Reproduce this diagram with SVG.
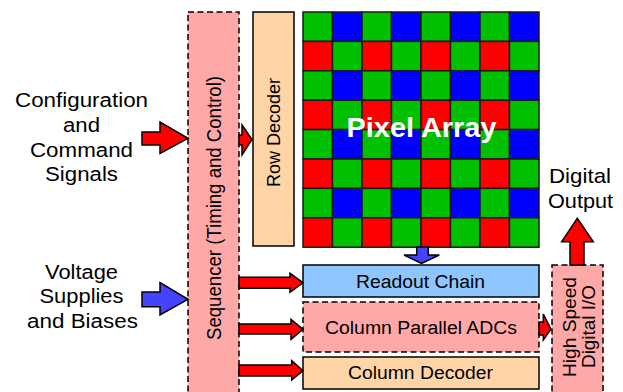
<svg xmlns="http://www.w3.org/2000/svg" width="623" height="392" viewBox="0 0 623 392">
  <defs>
    <style>
      text { font-family: "Liberation Sans", Arial, sans-serif; fill: #000; }
      .lbl { font-size: 20px; text-anchor: middle; }
      .box { font-size: 18px; text-anchor: middle; }
      .solid { stroke: #000; stroke-width: 1.5; }
      .dashed { stroke: #000; stroke-width: 1.5; stroke-dasharray: 6 3.5; }
      .pink { fill: #ffa8a8; }
      .peach { fill: #ffd5a8; }
      .sky { fill: #8fc6ff; }
      .arr-red { fill: #ff0000; stroke: #000; stroke-width: 1.5; stroke-linejoin: miter; }
      .arr-blue { fill: #4444ff; stroke: #000; stroke-width: 1.5; stroke-linejoin: miter; }
      .cell { stroke: #1a1a1a; stroke-width: 1.5; }
      .g { fill: #00c000; }
      .b { fill: #0000ff; }
      .r { fill: #ff0000; }
    </style>
  </defs>

  <!-- input labels -->
  <g id="config-label">
    <text class="lbl" x="81.5" y="107" textLength="133" lengthAdjust="spacingAndGlyphs">Configuration</text>
    <text class="lbl" x="81.5" y="132" textLength="37" lengthAdjust="spacingAndGlyphs">and</text>
    <text class="lbl" x="81.5" y="157" textLength="103" lengthAdjust="spacingAndGlyphs">Command</text>
    <text class="lbl" x="81.5" y="181" textLength="73" lengthAdjust="spacingAndGlyphs">Signals</text>
  </g>
  <g id="supply-label">
    <text class="lbl" x="81.5" y="279" textLength="73" lengthAdjust="spacingAndGlyphs">Voltage</text>
    <text class="lbl" x="81.5" y="303" textLength="84" lengthAdjust="spacingAndGlyphs">Supplies</text>
    <text class="lbl" x="82.5" y="328" textLength="111" lengthAdjust="spacingAndGlyphs">and Biases</text>
  </g>

  <!-- sequencer -->
  <g id="sequencer">
    <rect class="pink dashed" x="188" y="12" width="51" height="400"/>
    <text transform="translate(221,208) rotate(-90)" style="font-size:20px;text-anchor:middle" textLength="264" lengthAdjust="spacingAndGlyphs">Sequencer (Timing and Control)</text>
  </g>

  <!-- row decoder -->
  <g id="row-decoder">
    <rect class="peach solid" x="253" y="12" width="41" height="234"/>
    <text transform="translate(280,132.5) rotate(-90)" style="font-size:19px;text-anchor:middle" textLength="109" lengthAdjust="spacingAndGlyphs">Row Decoder</text>
  </g>

  <!-- pixel array: 8x8 Bayer mosaic -->
  <g id="pixel-array">
    <g class="cell">
      <rect class="g" x="303" y="12" width="29.5" height="29.4"/>
      <rect class="b" x="332.5" y="12" width="29.5" height="29.4"/>
      <rect class="g" x="362" y="12" width="29.5" height="29.4"/>
      <rect class="b" x="391.5" y="12" width="29.5" height="29.4"/>
      <rect class="g" x="421" y="12" width="29.5" height="29.4"/>
      <rect class="b" x="450.5" y="12" width="29.5" height="29.4"/>
      <rect class="g" x="480" y="12" width="29.5" height="29.4"/>
      <rect class="b" x="509.5" y="12" width="29.5" height="29.4"/>

      <rect class="r" x="303" y="41.4" width="29.5" height="29.4"/>
      <rect class="g" x="332.5" y="41.4" width="29.5" height="29.4"/>
      <rect class="r" x="362" y="41.4" width="29.5" height="29.4"/>
      <rect class="g" x="391.5" y="41.4" width="29.5" height="29.4"/>
      <rect class="r" x="421" y="41.4" width="29.5" height="29.4"/>
      <rect class="g" x="450.5" y="41.4" width="29.5" height="29.4"/>
      <rect class="r" x="480" y="41.4" width="29.5" height="29.4"/>
      <rect class="g" x="509.5" y="41.4" width="29.5" height="29.4"/>

      <rect class="g" x="303" y="70.8" width="29.5" height="29.4"/>
      <rect class="b" x="332.5" y="70.8" width="29.5" height="29.4"/>
      <rect class="g" x="362" y="70.8" width="29.5" height="29.4"/>
      <rect class="b" x="391.5" y="70.8" width="29.5" height="29.4"/>
      <rect class="g" x="421" y="70.8" width="29.5" height="29.4"/>
      <rect class="b" x="450.5" y="70.8" width="29.5" height="29.4"/>
      <rect class="g" x="480" y="70.8" width="29.5" height="29.4"/>
      <rect class="b" x="509.5" y="70.8" width="29.5" height="29.4"/>

      <rect class="r" x="303" y="100.2" width="29.5" height="29.4"/>
      <rect class="g" x="332.5" y="100.2" width="29.5" height="29.4"/>
      <rect class="r" x="362" y="100.2" width="29.5" height="29.4"/>
      <rect class="g" x="391.5" y="100.2" width="29.5" height="29.4"/>
      <rect class="r" x="421" y="100.2" width="29.5" height="29.4"/>
      <rect class="g" x="450.5" y="100.2" width="29.5" height="29.4"/>
      <rect class="r" x="480" y="100.2" width="29.5" height="29.4"/>
      <rect class="g" x="509.5" y="100.2" width="29.5" height="29.4"/>

      <rect class="g" x="303" y="129.6" width="29.5" height="29.4"/>
      <rect class="b" x="332.5" y="129.6" width="29.5" height="29.4"/>
      <rect class="g" x="362" y="129.6" width="29.5" height="29.4"/>
      <rect class="b" x="391.5" y="129.6" width="29.5" height="29.4"/>
      <rect class="g" x="421" y="129.6" width="29.5" height="29.4"/>
      <rect class="b" x="450.5" y="129.6" width="29.5" height="29.4"/>
      <rect class="g" x="480" y="129.6" width="29.5" height="29.4"/>
      <rect class="b" x="509.5" y="129.6" width="29.5" height="29.4"/>

      <rect class="r" x="303" y="159" width="29.5" height="29.4"/>
      <rect class="g" x="332.5" y="159" width="29.5" height="29.4"/>
      <rect class="r" x="362" y="159" width="29.5" height="29.4"/>
      <rect class="g" x="391.5" y="159" width="29.5" height="29.4"/>
      <rect class="r" x="421" y="159" width="29.5" height="29.4"/>
      <rect class="g" x="450.5" y="159" width="29.5" height="29.4"/>
      <rect class="r" x="480" y="159" width="29.5" height="29.4"/>
      <rect class="g" x="509.5" y="159" width="29.5" height="29.4"/>

      <rect class="g" x="303" y="188.4" width="29.5" height="29.4"/>
      <rect class="b" x="332.5" y="188.4" width="29.5" height="29.4"/>
      <rect class="g" x="362" y="188.4" width="29.5" height="29.4"/>
      <rect class="b" x="391.5" y="188.4" width="29.5" height="29.4"/>
      <rect class="g" x="421" y="188.4" width="29.5" height="29.4"/>
      <rect class="b" x="450.5" y="188.4" width="29.5" height="29.4"/>
      <rect class="g" x="480" y="188.4" width="29.5" height="29.4"/>
      <rect class="b" x="509.5" y="188.4" width="29.5" height="29.4"/>

      <rect class="r" x="303" y="217.8" width="29.5" height="29.4"/>
      <rect class="g" x="332.5" y="217.8" width="29.5" height="29.4"/>
      <rect class="r" x="362" y="217.8" width="29.5" height="29.4"/>
      <rect class="g" x="391.5" y="217.8" width="29.5" height="29.4"/>
      <rect class="r" x="421" y="217.8" width="29.5" height="29.4"/>
      <rect class="g" x="450.5" y="217.8" width="29.5" height="29.4"/>
      <rect class="r" x="480" y="217.8" width="29.5" height="29.4"/>
      <rect class="g" x="509.5" y="217.8" width="29.5" height="29.4"/>
    </g>
    <text x="421.5" y="137" style="font-size:28px;font-weight:bold;fill:#fff;text-anchor:middle" textLength="150" lengthAdjust="spacingAndGlyphs">Pixel Array</text>
  </g>

  <!-- column blocks -->
  <g id="readout-chain">
    <rect class="sky solid" x="303" y="265" width="236" height="32"/>
    <text class="box" x="420.5" y="288" textLength="129" lengthAdjust="spacingAndGlyphs">Readout Chain</text>
  </g>
  <g id="column-adcs">
    <rect class="pink dashed" x="303" y="302" width="236" height="50"/>
    <text class="box" x="421" y="334" textLength="192" lengthAdjust="spacingAndGlyphs">Column Parallel ADCs</text>
  </g>
  <g id="column-decoder">
    <rect class="peach solid" x="303" y="357" width="236" height="32"/>
    <text class="box" x="420.5" y="379" textLength="145" lengthAdjust="spacingAndGlyphs">Column Decoder</text>
  </g>

  <!-- output I/O -->
  <g id="digital-io">
    <rect class="pink dashed" x="552" y="265" width="51" height="150"/>
    <text transform="translate(576,327) rotate(-90)" style="font-size:19px;text-anchor:middle" textLength="100" lengthAdjust="spacingAndGlyphs">High Speed</text>
    <text transform="translate(595,326.5) rotate(-90)" style="font-size:19px;text-anchor:middle" textLength="83" lengthAdjust="spacingAndGlyphs">Digital I/O</text>
  </g>
  <g id="output-label">
    <text x="580" y="183" style="font-size:21px;text-anchor:middle" textLength="62" lengthAdjust="spacingAndGlyphs">Digital</text>
    <text x="580.5" y="208" style="font-size:21px;text-anchor:middle" textLength="65" lengthAdjust="spacingAndGlyphs">Output</text>
  </g>

  <!-- connectors -->
  <g id="connectors">
    <polygon class="arr-red" points="142,132 160,132 160,122 188,138.3 160,153.5 160,145 142,145"/>
    <polygon class="arr-blue" points="142,292 160,292 160,282.5 188,299.3 160,315 160,306.7 142,306.7"/>
    <polygon class="arr-red" points="239,135 242,135 242,125 252,139.5 242,155 242,145 239,145"/>
    <polygon class="arr-red" points="239,277.3 290,277.3 290,273.3 303,282.8 290,292.3 290,288.3 239,288.3"/>
    <polygon class="arr-red" points="239,324 291,324 291,319.3 303,329.3 291,339.3 291,334 239,334"/>
    <polygon class="arr-red" points="239,365 291.7,365 291.7,360.7 303,370.7 291.7,380 291.7,376 239,376"/>
    <polygon class="arr-red" points="539,322 543.3,322 543.3,314 551,329.3 543.3,340 543.3,335 539,335"/>
    <polygon class="arr-blue" points="416.7,247 428.3,247 428.3,255 439.3,255 421.5,263.5 404,255 416.7,255"/>
    <polygon class="arr-red" points="570,265 570,241.7 561.7,241.7 577.3,218.3 593.3,241.7 584,241.7 584,265"/>
  </g>
</svg>
